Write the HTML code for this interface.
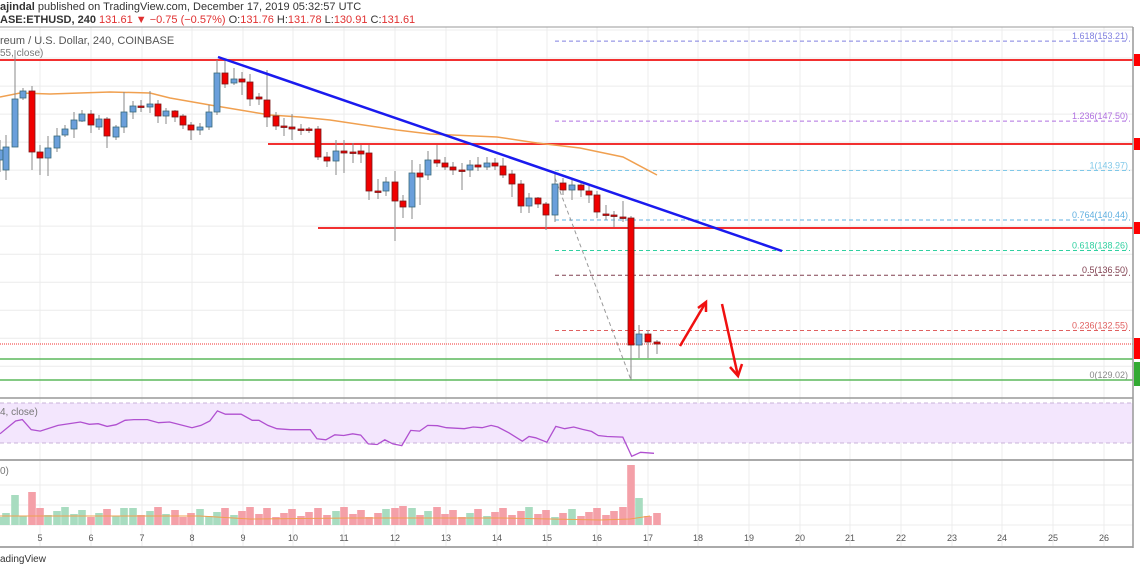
<!DOCTYPE html>
<html><head><meta charset="utf-8"><style>
html,body{margin:0;padding:0;background:#fff;width:1140px;height:570px;overflow:hidden}
svg{display:block}
text{font-family:"Liberation Sans",sans-serif}
</style></head><body>
<svg id="s" width="1140" height="570" xmlns="http://www.w3.org/2000/svg">
<rect width="1140" height="570" fill="#fff"/>
<g id="grid"></g>
<rect x="0" y="403" width="1133" height="40" fill="#f3e6fd"/>
<line x1="0" y1="403" x2="1133" y2="403" stroke="#c9b3d9" stroke-dasharray="4,3"/>
<line x1="0" y1="443" x2="1133" y2="443" stroke="#c9b3d9" stroke-dasharray="4,3"/>
<g id="fib"></g>
<line x1="0" y1="60" x2="1133" y2="60" stroke="#f23030" stroke-width="2"/>
<line x1="268" y1="144" x2="1133" y2="144" stroke="#f23030" stroke-width="2"/>
<line x1="318" y1="228" x2="1133" y2="228" stroke="#f23030" stroke-width="2"/>
<line x1="0" y1="359" x2="1133" y2="359" stroke="#5cb85c" stroke-width="1.5"/>
<line x1="0" y1="380" x2="1133" y2="380" stroke="#5cb85c" stroke-width="1.5"/>
<line x1="0" y1="344" x2="1133" y2="344" stroke="#f23030" stroke-width="1" stroke-dasharray="1,1"/>
<line x1="555" y1="178" x2="631" y2="380" stroke="#999" stroke-dasharray="4,3"/>
<polyline fill="none" stroke="#f0a050" stroke-width="1.5" points="0,97 20,93 50,94 110,92 150,93 170,98 210,105 240,110 270,115 300,117 330,120 397,130 430,134 497,137 537,143 580,148 623,157 657,175"/>
<g id="candles"></g>
<line x1="218" y1="57" x2="782" y2="251" stroke="#1a1aee" stroke-width="2.5"/>
<g stroke="#f01010" stroke-width="2.5" fill="none">
<polyline points="680,346 706,302"/>
<polyline points="698,308 706,302 706,312"/>
<polyline points="722,304 738,376"/>
<polyline points="730,367 738,376 742,364"/>
</g>
<polyline id="rsi" fill="none" stroke="#b050d0" stroke-width="1.3"/>
<g id="vol"></g>
<line x1="0" y1="398" x2="1133" y2="398" stroke="#999" stroke-width="1.5"/>
<line x1="0" y1="460" x2="1133" y2="460" stroke="#aaa" stroke-width="2"/>
<line x1="0" y1="547" x2="1133" y2="547" stroke="#aaa" stroke-width="2"/>
<line x1="1133" y1="27" x2="1133" y2="548" stroke="#999" stroke-width="1.5"/>
<line x1="0" y1="27" x2="1133" y2="27" stroke="#999" stroke-width="1"/>
<g id="tl" font-size="9" fill="#555"></g>
<g id="rb"></g>
<text x="0" y="10" font-size="11" fill="#333"><tspan font-weight="bold">ajindal</tspan> published on TradingView.com, December 17, 2019 05:32:57 UTC</text>
<text x="0" y="23" font-size="11" fill="#333"><tspan font-weight="bold">ASE:ETHUSD, 240</tspan> <tspan fill="#e03030">131.61 ▼ −0.75 (−0.57%)</tspan> O:<tspan fill="#e03030">131.76</tspan> H:<tspan fill="#e03030">131.78</tspan> L:<tspan fill="#e03030">130.91</tspan> C:<tspan fill="#e03030">131.61</tspan></text>
<text x="0" y="44" font-size="11" fill="#555">reum / U.S. Dollar, 240, COINBASE</text>
<text x="0" y="56" font-size="10" fill="#777">55, close)</text>
<text x="0" y="415" font-size="10" fill="#777">4, close)</text>
<text x="0" y="474" font-size="10" fill="#777">0)</text>
<text x="0" y="562" font-size="10" fill="#333">adingView</text>
</svg>
<script>
var NS="http://www.w3.org/2000/svg";
function el(p,t,a,txt){var e=document.createElementNS(NS,t);for(var k in a)e.setAttribute(k,a[k]);if(txt!=null)e.textContent=txt;document.getElementById(p).appendChild(e);return e;}
var days=[[40,5],[91,6],[142,7],[192,8],[243,9],[293,10],[344,11],[395,12],[446,13],[497,14],[547,15],[597,16],[648,17],[698,18],[749,19],[800,20],[850,21],[901,22],[952,23],[1002,24],[1053,25],[1104,26]];
days.forEach(function(d){el("grid","line",{x1:d[0],y1:27,x2:d[0],y2:547,stroke:"#ececec"});el("tl","text",{x:d[0],y:541,"text-anchor":"middle"},d[1]);});
for(var p=130;p<=154;p+=2){var y=380-(p-129.02)*14.01;el("grid","line",{x1:0,y1:y,x2:1133,y2:y,stroke:"#ececec"});}
[417,431,485,505,525].forEach(function(y){el("grid","line",{x1:0,y1:y,x2:1133,y2:y,stroke:"#ececec"});});
var fib=[["1.618",153.21,"#8080e0"],["1.236",147.50,"#b070e0"],["1",143.97,"#80c8e8"],["0.764",140.44,"#60b0e0"],["0.618",138.26,"#30d0a0"],["0.5",136.50,"#804050"],["0.236",132.55,"#e06060"],["0",129.02,"#888"]];
fib.forEach(function(f){var y=380-(f[1]-129.02)*14.01;el("fib","line",{x1:555,y1:y,x2:1130,y2:y,stroke:f[2],"stroke-dasharray":"4,3"});el("fib","text",{x:1128,y:y-2,"text-anchor":"end","font-size":"9",fill:f[2]},f[0]+"("+f[1].toFixed(2)+")");});
var C=[[0,160,150,140,172],[6,170,147,135,180],[15,147,99,50,147],[23,98,91,88,100],[32,91,152,86,170],[40,152,158,145,175],[48,158,148,136,176],[57,148,136,128,152],[65,135,129,125,137],[74,129,120,112,138],[82,121,114,110,122],[91,114,125,110,133],[99,127,119,115,130],[107,119,136,117,148],[116,137,127,125,140],[124,127,112,92,133],[133,112,106,101,119],[141,106,107,100,112],[150,107,104,91,113],[158,104,116,100,123],[166,116,111,108,124],[175,111,117,110,122],[183,116,125,114,129],[191,125,130,122,140],[200,130,127,123,135],[209,127,112,105,130],[217,112,73,60,115],[225,73,84,60,88],[234,83,79,68,85],[242,79,82,72,95],[250,82,99,74,106],[259,97,99,93,105],[267,100,117,70,127],[276,116,126,112,130],[284,126,127,118,136],[292,127,129,114,140],[301,129,129,124,135],[309,129,129,127,133],[318,129,157,126,160],[327,157,161,152,167],[336,161,151,140,175],[344,151,153,140,173],[353,152,152,143,163],[361,151,154,145,163],[369,153,191,145,200],[378,191,191,179,199],[386,191,182,177,196],[395,182,201,171,241],[403,201,207,195,218],[412,207,173,160,219],[420,173,177,164,205],[428,175,160,151,180],[437,160,163,145,167],[445,163,167,157,170],[453,167,170,162,175],[462,170,170,163,190],[470,170,165,160,177],[478,165,167,157,171],[487,167,163,157,170],[495,163,166,158,170],[503,166,175,158,178],[512,174,184,170,197],[521,184,206,180,213],[529,206,198,193,213],[538,198,204,197,208],[546,204,215,202,230],[555,215,184,173,222],[563,183,190,178,195],[572,190,185,178,200],[581,185,190,181,197],[589,191,195,186,203],[597,195,212,191,218],[606,214,215,205,220],[614,215,215,211,227],[623,217,218,201,222],[631,218,345,216,380],[639,345,334,325,358],[648,334,342,330,358],[657,342,344,340,354]];
C.forEach(function(c){var x=c[0],up=c[2]<c[1];el("candles","line",{x1:x,y1:c[3],x2:x,y2:c[4],stroke:"#888","stroke-width":1});var t=Math.min(c[1],c[2]),h=Math.max(1.5,Math.abs(c[2]-c[1]));el("candles","rect",{x:x-3,y:t,width:6,height:h,fill:up?"#6a9fdb":"#f00000",stroke:up?"#3a6a7a":"#7a1a1a","stroke-width":0.8});});
var spec={15:495,32:492,124:508,267:508,395:508,403:506,631:465,639:498,648:516};
C.forEach(function(c,i){var x=c[0],up=c[2]<c[1];var top=spec[x]||(517-((i*37)%11));el("vol","rect",{x:x-3.8,y:top,width:7.6,height:525-top,fill:up?"#a8dcc0":"#f4a0a8"});});
el("vol","polyline",{points:"0,516 200,516 250,519 350,518 500,518 600,520 630,519 650,516",fill:"none",stroke:"#f0a050","stroke-width":1});
var R=[[0,130],[35,92],[50,88],[70,118],[90,122],[130,105],[180,95],[200,102],[220,100],[240,108],[260,103],[280,90],[300,88],[330,88],[355,97],[380,95],[430,112],[450,105],[470,92],[487,62],[505,72],[540,72],[565,90],[580,90],[600,105],[620,115],[650,118],[695,118],[710,145],[730,148],[750,133],[770,135],[790,130],[808,134],[825,160],[845,162],[862,148],[880,160],[900,165],[920,120],[940,122],[958,105],[980,106],[1000,112],[1040,115],[1060,110],[1080,112],[1100,105],[1115,110],[1140,127],[1170,152],[1185,138],[1200,142],[1225,155],[1245,108],[1265,115],[1285,110],[1305,117],[1325,123],[1340,135],[1360,138],[1395,140],[1415,197],[1435,185],[1465,188]];
document.getElementById("rsi").setAttribute("points",R.map(function(r){return (r[0]/2.24).toFixed(1)+","+(390+r[1]/2.97).toFixed(1);}).join(" "));
[[60,"#f00"],[144,"#f00"],[228,"#f00"],[344,"#f00"],[353,"#f00"],[368,"#3a3"],[380,"#3a3"]].forEach(function(b){el("rb","rect",{x:1134,y:b[0]-6,width:6,height:12,fill:b[1]});});
</script>
</body></html>
